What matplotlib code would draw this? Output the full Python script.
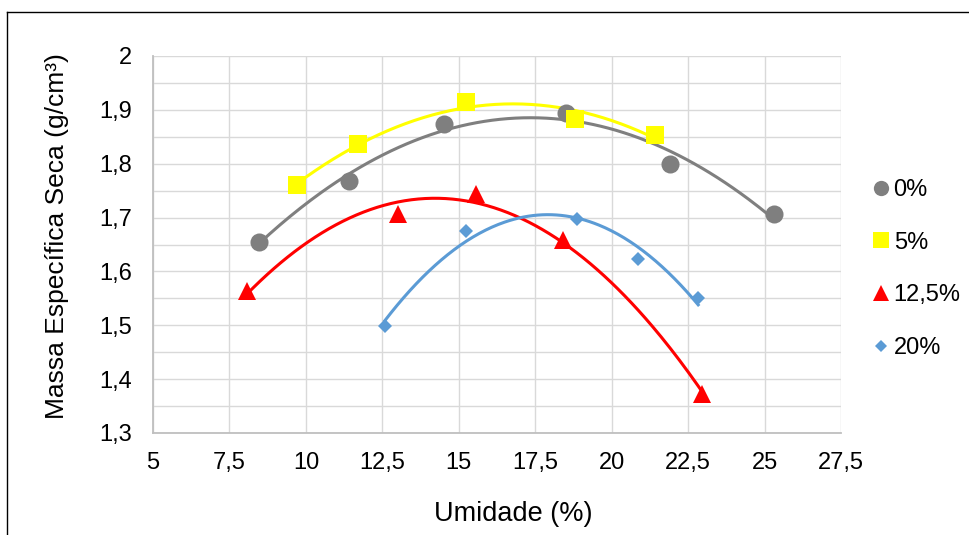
import matplotlib
matplotlib.use("Agg")
import matplotlib.pyplot as plt
import numpy as np
from matplotlib.lines import Line2D
from matplotlib.ticker import MultipleLocator, FuncFormatter

plt.rcParams["font.family"] = ["Liberation Sans", "DejaVu Sans"]

# Umidade (%) / Massa específica seca (g/cm3) por teor
labels = ["0%", "5%", "12,5%", "20%"]

x_0 = [8.47, 11.42, 14.51, 18.50, 21.90, 25.32]
y_0 = [1.655, 1.768, 1.873, 1.895, 1.799, 1.706]

x_5 = [9.72, 11.70, 15.23, 18.79, 21.43]
y_5 = [1.760, 1.837, 1.914, 1.883, 1.854]

x_125 = [8.06, 13.00, 15.56, 18.40, 22.97]
y_125 = [1.563, 1.706, 1.744, 1.658, 1.372]

x_20 = [12.58, 15.24, 18.88, 20.87, 22.83]
y_20 = [1.499, 1.675, 1.697, 1.624, 1.551]

series = [
    (x_0, y_0, "#7F7F7F", "o", 13, 11),
    (x_5, y_5, "#FFFF00", "s", 13, 11.5),
    (x_125, y_125, "#FF0000", "^", 13, 11),
    (x_20, y_20, "#5B9BD5", "D", 7, 6),
]

fig = plt.figure(figsize=(9.7, 5.35), dpi=100)
ax = fig.add_axes([153 / 970, 1 - 433 / 535, 688 / 970, 377 / 535])

handles = []
for (xs, ys, color, mk, ms, ms_leg), lab in zip(series, labels):
    xs = np.array(xs)
    ys = np.array(ys)
    # linha de tendência polinomial (ordem 2), como no Excel
    coef = np.polyfit(xs, ys, 2)
    xx = np.linspace(xs.min(), xs.max(), 200)
    ax.plot(xx, np.polyval(coef, xx), color=color, lw=2.2, zorder=3)
    ax.plot(xs, ys, ls="none", marker=mk, ms=ms, color=color,
            markeredgewidth=0, zorder=4)
    handles.append(Line2D([], [], ls="none", marker=mk, ms=ms_leg,
                          color=color, markeredgewidth=0, label=lab))

ax.set_xlim(5, 27.5)
ax.set_ylim(1.3, 2.0)
ax.xaxis.set_major_locator(MultipleLocator(2.5))
ax.yaxis.set_major_locator(MultipleLocator(0.1))
ax.yaxis.set_minor_locator(MultipleLocator(0.05))

ax.xaxis.set_major_formatter(FuncFormatter(lambda v, p: f"{round(v, 1):g}".replace(".", ",")))
ax.yaxis.set_major_formatter(FuncFormatter(lambda v, p: f"{round(v, 2):g}".replace(".", ",")))

ax.grid(True, which="major", color="#D9D9D9", lw=1.0)
ax.grid(True, which="minor", axis="y", color="#D9D9D9", lw=1.0)
ax.set_axisbelow(True)

for side in ["top", "right"]:
    ax.spines[side].set_visible(False)
for side in ["left", "bottom"]:
    ax.spines[side].set_color("#BFBFBF")
    ax.spines[side].set_linewidth(1.3)

ax.tick_params(which="both", length=0)
ax.tick_params(axis="x", labelsize=17, pad=14)
ax.tick_params(axis="y", labelsize=17, pad=15)

ax.set_xlabel("Umidade (%)", fontsize=19.5)
ax.set_ylabel("Massa Específica Seca (g/cm³)", fontsize=19)
ax.xaxis.set_label_coords(0.523, -0.18)
ax.yaxis.set_label_coords(-0.122, 0.522)

fig.legend(handles=handles, loc="upper left", bbox_to_anchor=(870 / 970, 1 - 179 / 535),
           frameon=False, fontsize=17, labelspacing=1.3, handlelength=0.9,
           handletextpad=0.1, borderpad=0, borderaxespad=0)

# borda do gráfico
fig.add_artist(Line2D([7 / 970, 1], [1 - 12 / 535, 1 - 12 / 535], color="black", lw=1.0))
fig.add_artist(Line2D([7 / 970, 7 / 970], [0, 1 - 12 / 535], color="black", lw=1.0))

fig.savefig("out.png", dpi=100)
